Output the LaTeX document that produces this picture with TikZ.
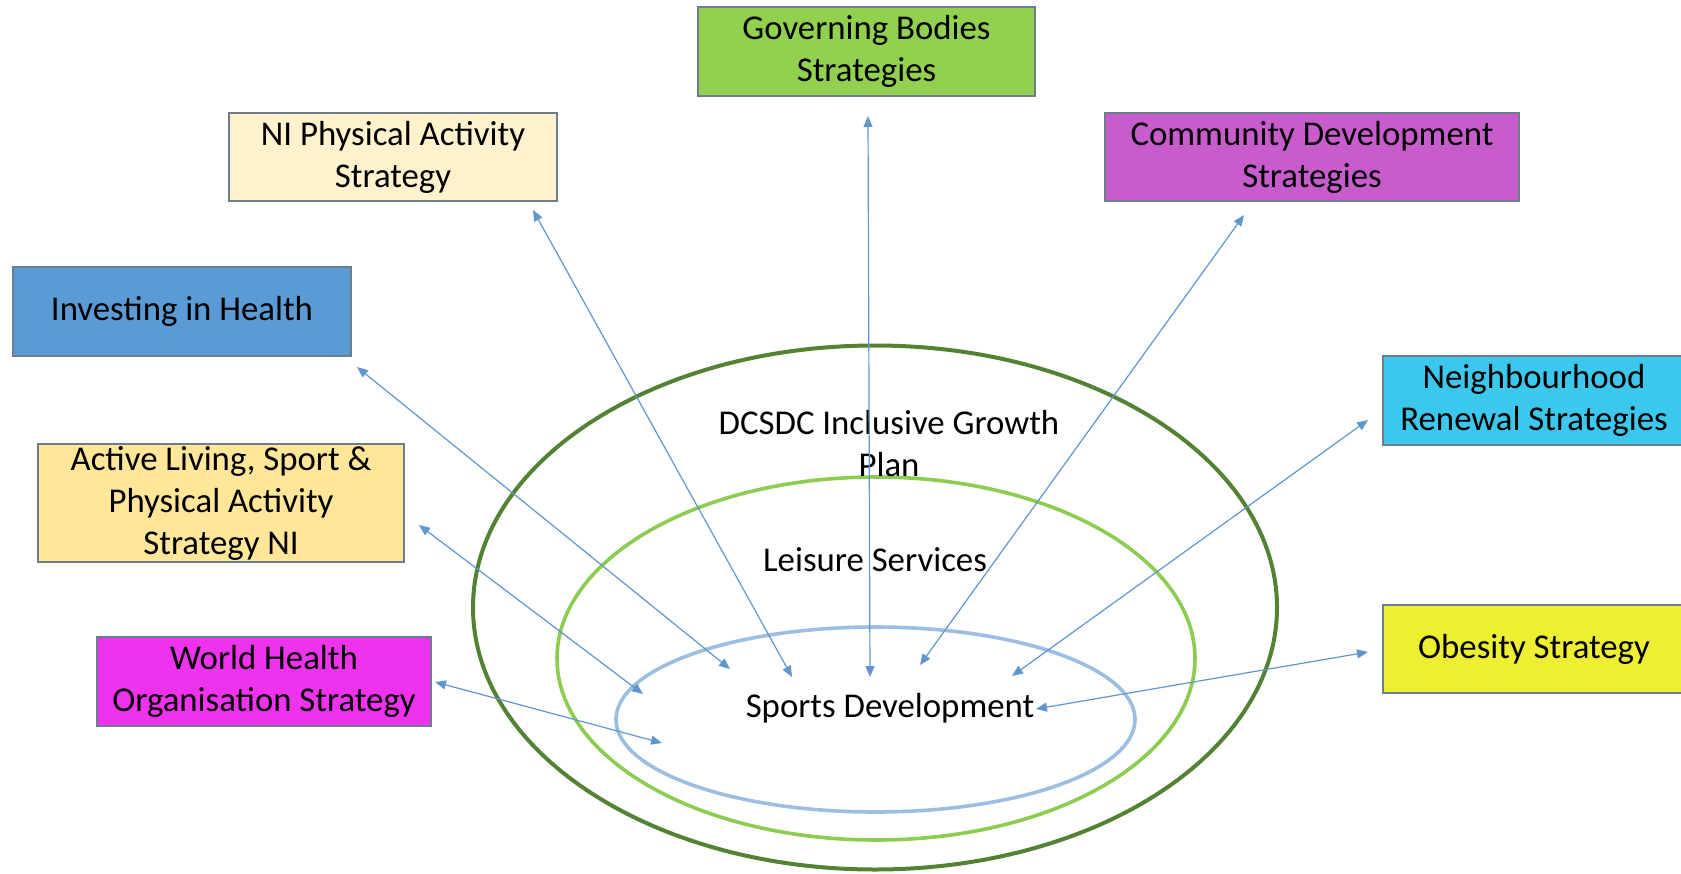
\documentclass[tikz,border=0pt]{standalone}
\usepackage{fontspec}
\setmainfont{Carlito}
\usetikzlibrary{arrows.meta}
\definecolor{govgreen}{RGB}{146,208,80}
\definecolor{nicream}{RGB}{255,242,204}
\definecolor{commpurple}{RGB}{200,92,205}
\definecolor{investblue}{RGB}{91,155,213}
\definecolor{neighcyan}{RGB}{60,200,236}
\definecolor{activegold}{RGB}{255,230,153}
\definecolor{whomagenta}{RGB}{238,50,238}
\definecolor{obesityyellow}{RGB}{238,238,50}
\definecolor{boxedge}{RGB}{110,125,140}
\definecolor{ringouter}{RGB}{84,130,53}
\definecolor{ringmid}{RGB}{140,204,80}
\definecolor{ringinner}{RGB}{155,190,225}
\definecolor{linkblue}{RGB}{95,150,205}

\begin{document}
\begin{tikzpicture}[x=0.5pt,y=-0.5pt,
  every node/.style={font=\fontsize{17.4}{21}\selectfont},
  stratbox/.style={draw=boxedge, line width=0.8pt, align=center, inner sep=0pt},
  ring/.style={line width=1.8pt},
  link/.style={draw=linkblue, line width=0.6pt,
    {Triangle[length=5.5pt,width=4.5pt]}-{Triangle[length=5.5pt,width=4.5pt]}}]
  \useasboundingbox (0,0) rectangle (1681,873);

  % nested plans
  \draw[ring, ringouter, line width=2pt] (875,607.5) ellipse [x radius=402, y radius=262];
  \draw[ring, ringmid] (876,658.5) ellipse [x radius=319, y radius=181.5];
  \draw[ring, ringinner] (875.5,719.5) ellipse [x radius=259.5, y radius=92.5];
  \node[anchor=base, align=center] (growth) at (889,476) {DCSDC Inclusive Growth\\Plan};
  \node[anchor=base] (leisure) at (875,571) {Leisure Services};
  \node[anchor=base] (sports) at (890,717) {Sports Development};

  % strategy boxes
  \node[stratbox, fill=govgreen, minimum width=168.5pt, minimum height=44.5pt] (gov) at (866.5,51.5) {Governing Bodies\\Strategies};
  \node[stratbox, fill=nicream, minimum width=164pt, minimum height=44pt] (nipa) at (393,157) {NI Physical Activity\\Strategy};
  \node[stratbox, fill=commpurple, minimum width=207pt, minimum height=44pt] (comm) at (1312,157) {Community Development\\Strategies};
  \node[stratbox, fill=investblue, minimum width=169pt, minimum height=44.5pt] (invest) at (182,311.5) {Investing in Health};
  \node[stratbox, fill=neighcyan, minimum width=151pt, minimum height=44.5pt] (neigh) at (1534,400.5) {Neighbourhood\\Renewal Strategies};
  \node[stratbox, fill=activegold, minimum width=183pt, minimum height=59pt] (active) at (221,503) {Active Living, Sport \&\\Physical Activity\\Strategy NI};
  \node[stratbox, fill=whomagenta, minimum width=167pt, minimum height=44.5pt] (who) at (264,681.5) {World Health\\Organisation Strategy};
  \node[stratbox, fill=obesityyellow, minimum width=151pt, minimum height=44pt] (obesity) at (1534,649) {Obesity Strategy};

  % arrow ends
  \coordinate (gov-end) at (868,116);    \coordinate (gov-in) at (870,677);
  \coordinate (nipa-end) at (533,210);   \coordinate (nipa-in) at (792,677);
  \coordinate (comm-end) at (1244,215);  \coordinate (comm-in) at (920,665);
  \coordinate (invest-end) at (357,367); \coordinate (invest-in) at (730,669);
  \coordinate (active-end) at (419,525); \coordinate (active-in) at (643,694);
  \coordinate (who-end) at (435,682);    \coordinate (who-in) at (662,743);
  \coordinate (neigh-end) at (1368,420); \coordinate (neigh-in) at (1012,676);
  \coordinate (obesity-end) at (1368,652); \coordinate (obesity-in) at (1036,709);

  \foreach \s in {gov,nipa,comm,invest,active,who,neigh,obesity}
    \draw[link] (\s-end) -- (\s-in);
\end{tikzpicture}
\end{document}
